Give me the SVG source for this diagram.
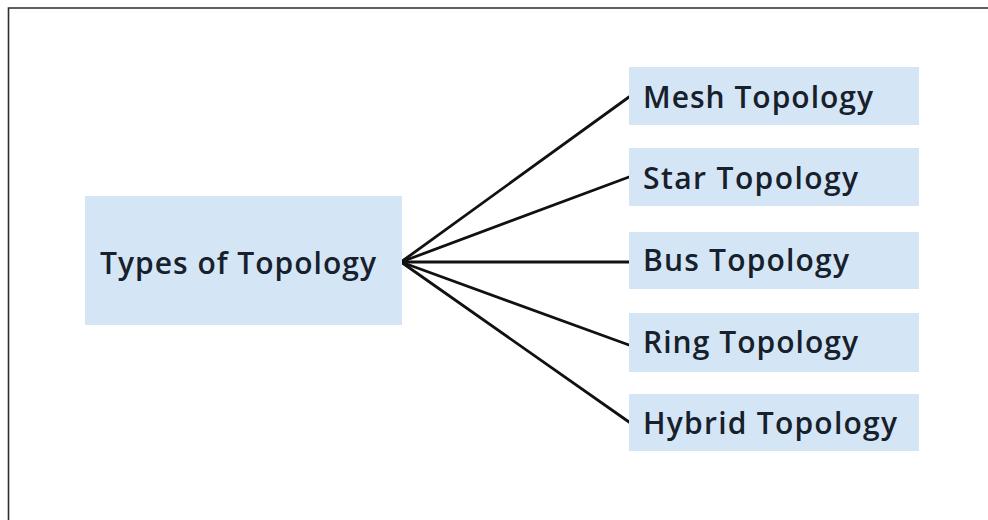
<svg xmlns="http://www.w3.org/2000/svg" width="988" height="520" viewBox="0 0 988 520">
  <style>
    .box { fill: #d4e6f6; }
    .label { font-family: "Open Sans", "Liberation Sans", sans-serif; font-weight: 600; font-size: 30px; fill: #17202b; }
    .link { stroke: #111; stroke-width: 2.8; fill: none; stroke-linecap: round; }
    .frame { stroke: #2e2e2e; stroke-width: 1.6; fill: none; }
  </style>
  <rect width="988" height="520" fill="#fff"/>
  <path class="frame" d="M8.5,520 V8 H988"/>

  <g id="connectors">
    <line class="link" x1="401" y1="262" x2="629" y2="97"/>
    <line class="link" x1="401" y1="262" x2="629" y2="177"/>
    <line class="link" x1="401" y1="262" x2="629" y2="262"/>
    <line class="link" x1="401" y1="262" x2="629" y2="345"/>
    <line class="link" x1="401" y1="262" x2="629" y2="422"/>
  </g>

  <g id="types">
    <rect class="box" x="85" y="196" width="317" height="129"/>
    <text class="label" x="100" y="274" textLength="276" lengthAdjust="spacing">Types of Topology</text>
  </g>
  <g id="mesh">
    <rect class="box" x="629" y="67" width="290" height="58"/>
    <text class="label" x="643" y="108" textLength="230" lengthAdjust="spacing">Mesh Topology</text>
  </g>
  <g id="star">
    <rect class="box" x="629" y="148" width="290" height="58"/>
    <text class="label" x="643" y="189" textLength="215" lengthAdjust="spacing">Star Topology</text>
  </g>
  <g id="bus">
    <rect class="box" x="629" y="232" width="290" height="57"/>
    <text class="label" x="643" y="271" textLength="206" lengthAdjust="spacing">Bus Topology</text>
  </g>
  <g id="ring">
    <rect class="box" x="629" y="313" width="290" height="59"/>
    <text class="label" x="643" y="353" textLength="215" lengthAdjust="spacing">Ring Topology</text>
  </g>
  <g id="hybrid">
    <rect class="box" x="629" y="394" width="290" height="57"/>
    <text class="label" x="643" y="434" textLength="254" lengthAdjust="spacing">Hybrid Topology</text>
  </g>
</svg>
